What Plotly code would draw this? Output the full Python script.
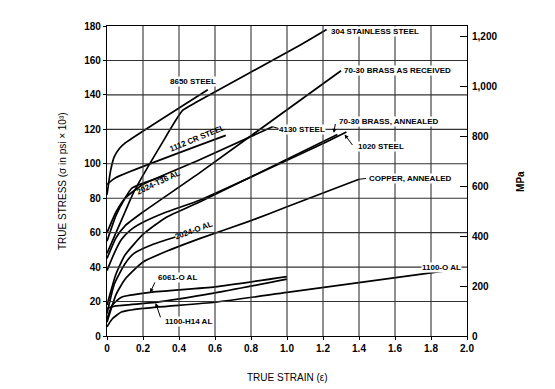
import plotly.graph_objects as go

FONT = "Liberation Sans, Arial, sans-serif"

# ---- data (true strain, true stress in ksi) ----
ss304_x = [0, 0.05, 0.1, 0.148, 0.3, 0.42, 0.5, 1.074, 1.22]
ss304_y = [48, 60, 72, 83.4, 111, 131, 136, 169, 178]

s8650_x = [0, 0.02, 0.04, 0.07, 0.1, 0.56]
s8650_y = [82, 96, 104, 109, 112, 143]

s1112_x = [0, 0.05, 0.66]
s1112_y = [88, 92, 116.5]

s4130_x = [0, 0.05, 0.1, 0.2, 0.518, 0.92]
s4130_y = [60, 72, 80, 88, 102.5, 121.5]

brass_ar_x = [0, 0.05, 0.1, 0.2, 0.518, 1.3]
brass_ar_y = [45, 57, 64, 72, 95, 154]

al2024t36_x = [0, 0.05, 0.1, 0.14, 0.32]
al2024t36_y = [55, 70, 80, 86, 93]

s1020_x = [0, 0.04, 0.08, 0.13, 0.2, 0.33, 0.518, 1.185, 1.33]
s1020_y = [38, 48, 56, 61.5, 66, 72, 79, 111, 118.5]

brass_ann_x = [0, 0.05, 0.1, 0.2, 0.33, 0.518, 1.28]
brass_ann_y = [18, 36, 47, 59, 69, 78, 117]

copper_x = [0, 0.05, 0.1, 0.2, 0.35, 0.518, 0.8, 1.0, 1.4]
copper_y = [8, 24, 33, 43, 50, 56.7, 67, 75, 91]

al2024o_x = [0, 0.04, 0.1, 0.15, 0.25, 0.38]
al2024o_y = [13, 30, 42, 48, 53, 57.5]

al6061o_x = [0, 0.03, 0.08, 0.24, 0.6, 1.0]
al6061o_y = [10, 18, 22.5, 25.3, 28.5, 34.5]

al1100h14_x = [0, 0.05, 0.27, 0.6, 1.0]
al1100h14_y = [16, 17.5, 19.5, 25, 33]

al1100o_x = [0, 0.03, 0.08, 0.2, 0.6, 1.0, 1.87]
al1100o_y = [5.3, 10, 13.9, 16, 19.6, 25.3, 37.7]

stress_ticks = [0, 20, 40, 60, 80, 100, 120, 140, 160, 180]
strain_ticks = [0, 0.2, 0.4, 0.6, 0.8, 1.0, 1.2, 1.4, 1.6, 1.8, 2.0]
strain_labels = ["0", "0.2", "0.4", "0.6", "0.8", "1.0", "1.2", "1.4", "1.6", "1.8", "2.0"]
mpa_ticks = [0, 200, 400, 600, 800, 1000, 1200]
mpa_labels = ["0", "200", "400", "600", "800", "1,000", "1,200"]
KSI_TO_MPA = 6.894757

series = [
    (ss304_x, ss304_y), (s8650_x, s8650_y), (s1112_x, s1112_y), (s4130_x, s4130_y),
    (brass_ar_x, brass_ar_y), (al2024t36_x, al2024t36_y), (s1020_x, s1020_y),
    (brass_ann_x, brass_ann_y), (copper_x, copper_y), (al2024o_x, al2024o_y),
    (al6061o_x, al6061o_y), (al1100h14_x, al1100h14_y), (al1100o_x, al1100o_y),
]

fig = go.Figure()

# grid lines from tick arrays
for t in strain_ticks[1:-1]:
    fig.add_shape(type="line", x0=t, x1=t, y0=0, y1=180, xref="x", yref="y",
                  line=dict(color="#333", width=1.1), layer="above")
for t in stress_ticks[1:-1]:
    fig.add_shape(type="line", x0=0, x1=2.0, y0=t, y1=t, xref="x", yref="y",
                  line=dict(color="#333", width=1.1), layer="above")

for xs, ys in series:
    fig.add_trace(go.Scatter(x=xs, y=ys, mode="lines",
                             line=dict(color="black", width=1.7, shape="spline", smoothing=0.5),
                             showlegend=False, hoverinfo="skip"))

# invisible trace for right axis
fig.add_trace(go.Scatter(x=[0], y=[0], yaxis="y2", mode="markers",
                         marker=dict(opacity=0), showlegend=False, hoverinfo="skip"))

lab = dict(family=FONT, size=8, color="black")

def txt(x, y, s, angle=0, xanchor="center", bg="white"):
    fig.add_annotation(x=x, y=y, text="<b>" + s + "</b>", showarrow=False, textangle=angle,
                       xanchor=xanchor, yanchor="middle", font=lab, borderpad=0,
                       bgcolor=bg)

CLEAR = "rgba(0,0,0,0)"
txt(1.24, 176.6, "304 STAINLESS STEEL", xanchor="left")
txt(1.31, 154, "70-30 BRASS AS RECEIVED", xanchor="left")
txt(0.48, 148, "8650 STEEL")
txt(0.5, 114.5, "1112 CR STEEL", angle=-22, bg=CLEAR)
txt(0.285, 89, "2024-T36 AL", angle=-25, bg=CLEAR)
txt(1.085, 120, "4130 STEEL")
txt(1.285, 124.5, "70-30 BRASS, ANNEALED", xanchor="left")
txt(1.39, 110, "1020 STEEL", xanchor="left")
txt(1.45, 91.5, "COPPER, ANNEALED", xanchor="left")
txt(0.48, 61.5, "2024-O AL", angle=-20, bg=CLEAR)
txt(0.39, 33.7, "6061-O AL")
txt(0.45, 8.6, "1100-H14 AL")
txt(1.86, 40, "1100-O AL")

# pointer arrows
def arrow(x, y, ax, ay):
    fig.add_annotation(x=x, y=y, ax=ax, ay=ay, axref="x", ayref="y", text="",
                       showarrow=True, arrowhead=2, arrowsize=0.8, arrowwidth=1, arrowcolor="black")

arrow(0.24, 25.3, 0.27, 32)
arrow(0.27, 19.2, 0.3, 10)
arrow(1.26, 118, 1.27, 124)
arrow(1.32, 117, 1.37, 110)

# connectors
fig.add_shape(type="line", x0=0.92, y0=121.5, x1=0.97, y1=120, line=dict(color="black", width=1))
fig.add_shape(type="line", x0=1.4, y0=91, x1=1.44, y1=91.5, line=dict(color="black", width=1))

# axis titles
fig.add_annotation(xref="paper", yref="paper", x=-0.125, y=0.5, xanchor="center", yanchor="middle",
                   text="TRUE STRESS (σ in psi × 10³)",
                   textangle=-90, showarrow=False, font=dict(family=FONT, size=10, color="black"))
fig.add_annotation(xref="paper", yref="paper", x=0.5, y=-0.133, xanchor="center", yanchor="middle",
                   text="TRUE STRAIN (ε)",
                   showarrow=False, font=dict(family=FONT, size=10, color="black"))
fig.add_annotation(xref="paper", yref="paper", x=1.147, y=0.5, xanchor="center", yanchor="middle",
                   text="<b>MPa</b>",
                   textangle=-90, showarrow=False, font=dict(family=FONT, size=10, color="black"))

tickfont = dict(family=FONT, size=10, color="black")
fig.update_layout(
    width=547, height=381,
    margin=dict(l=99, r=88, t=13, b=53),
    paper_bgcolor="white", plot_bgcolor="white",
    xaxis=dict(range=[0, 2.0], tickvals=strain_ticks, ticktext=["<b>" + s + "</b>" for s in strain_labels],
               showgrid=False, zeroline=False,
               showline=True, linecolor="black", linewidth=1.2, mirror=True,
               ticks="outside", ticklen=3, tickcolor="black", tickfont=tickfont),
    yaxis=dict(range=[0, 180], tickvals=stress_ticks, ticktext=["<b>%d</b>" % s for s in stress_ticks],
               showgrid=False, zeroline=False,
               showline=True, linecolor="black", linewidth=1.2, mirror=True,
               ticks="outside", ticklen=3, tickcolor="black", tickfont=tickfont),
    yaxis2=dict(range=[0, 180 * KSI_TO_MPA], tickvals=mpa_ticks,
                ticktext=["<b>" + s + "</b>" for s in mpa_labels],
                overlaying="y", side="right", showgrid=False, zeroline=False,
                ticks="inside", ticklen=7, tickcolor="black", tickfont=tickfont,
                ticklabelstandoff=4, showline=False),
    font=dict(family=FONT),
)

fig.write_html("out.html")
